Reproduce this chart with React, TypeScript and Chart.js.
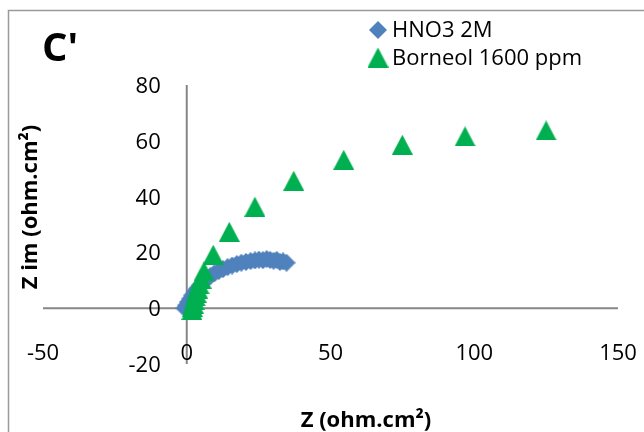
import React, { useEffect, useRef } from "react";
import { Chart, registerables } from "chart.js";

Chart.register(...registerables);

// Nyquist data, Z' (real) and Z'' (imaginary), ohm.cm²
const hno3X = [
  -0.8, -0.2, 0.5, 1.2, 1.9, 2.7, 3.6, 4.6, 5.7, 6.9, 8.2, 9.6, 11.1, 12.6, 14.2, 15.8,
  17.4, 19.0, 20.6, 22.2, 23.7, 25.1, 26.5, 27.8, 29.0, 30.2, 31.3, 32.4, 33.5, 34.7,
];
const hno3Y = [
  0.0, 1.0, 2.2, 3.4, 4.6, 5.8, 7.0, 8.2, 9.3, 10.4, 11.5, 12.5, 13.3, 14.0, 14.7, 15.3,
  15.8, 16.3, 16.6, 16.9, 17.1, 17.4, 17.2, 17.6, 17.3, 17.0, 17.3, 16.6, 16.8, 16.3,
];
const borneolX = [
  1.8, 2.0, 2.3, 2.6, 3.0, 3.3, 3.8, 4.3, 5.0, 6.0, 9.2, 14.8, 23.7, 37.2, 54.6, 75.0, 96.8, 125.0,
];
const borneolY = [
  -0.6, 0.4, 1.6, 2.9, 4.2, 5.5, 7.0, 8.6, 10.6, 13.2, 19.2, 27.4, 36.4, 45.7, 53.2, 58.6, 61.6, 63.7,
];

const seriesNames = ["HNO3 2M", "Borneol 1600 ppm"];
const xTickValues = [-50, 0, 50, 100, 150];
const yTickValues = [-20, 0, 20, 40, 60, 80];
const panelLabel = "C'";
const xTitle = "Z (ohm.cm²)";
const yTitle = "Z im (ohm.cm²)";

const BLUE = "#4F81BD";
const GREEN = "#00B050";
const FONT = '"Open Sans", "DejaVu Sans", sans-serif';

function makeDiamond(color: string, w: number, h: number) {
  const c = document.createElement("canvas");
  c.width = w;
  c.height = h;
  const g = c.getContext("2d")!;
  g.fillStyle = color;
  g.beginPath();
  g.moveTo(w / 2, 0);
  g.lineTo(w, h / 2);
  g.lineTo(w / 2, h);
  g.lineTo(0, h / 2);
  g.closePath();
  g.fill();
  return c;
}

function makeTriangle(color: string, w: number, h: number) {
  const c = document.createElement("canvas");
  c.width = w;
  c.height = h;
  const g = c.getContext("2d")!;
  g.fillStyle = color;
  g.beginPath();
  g.moveTo(w / 2, 0);
  g.lineTo(w, h);
  g.lineTo(0, h);
  g.closePath();
  g.fill();
  return c;
}

export default function App() {
  const canvasRef = useRef<HTMLCanvasElement | null>(null);

  useEffect(() => {
    const canvas = canvasRef.current;
    if (!canvas) return;

    const diamond = makeDiamond(BLUE, 18, 18);
    const triangle = makeTriangle(GREEN, 21, 20);

    const decor = {
      id: "decor",
      beforeDatasetsDraw(chart: any) {
        const { ctx } = chart;
        const xs = chart.scales.x;
        const ys = chart.scales.y;
        const x0 = xs.getPixelForValue(0);
        const y0 = ys.getPixelForValue(0);
        ctx.save();
        // outer frame
        ctx.strokeStyle = "#9a9a9a";
        ctx.lineWidth = 1.5;
        ctx.strokeRect(8.5, 10.5, 900, 700);
        // axes crossing at zero
        ctx.strokeStyle = "#868686";
        ctx.lineWidth = 2;
        ctx.beginPath();
        ctx.moveTo(xs.left, y0);
        ctx.lineTo(xs.right, y0);
        ctx.moveTo(x0, ys.top);
        ctx.lineTo(x0, ys.bottom);
        ctx.stroke();
        // tick labels
        ctx.fillStyle = "#000";
        ctx.font = `22px ${FONT}`;
        ctx.textBaseline = "alphabetic";
        ctx.textAlign = "right";
        yTickValues.forEach((v) => {
          ctx.fillText(String(v), x0 - 26, ys.getPixelForValue(v) + 8);
        });
        ctx.textAlign = "center";
        xTickValues.forEach((v) => {
          ctx.fillText(String(v), xs.getPixelForValue(v), y0 + 51.5);
        });
        ctx.restore();
      },
      afterDraw(chart: any) {
        const { ctx } = chart;
        ctx.save();
        ctx.fillStyle = "#000";
        ctx.textBaseline = "alphabetic";
        // panel label
        ctx.font = `bold 40px ${FONT}`;
        ctx.textAlign = "left";
        ctx.fillText(panelLabel, 42, 61);
        // axis titles
        ctx.font = `bold 22px ${FONT}`;
        ctx.textAlign = "center";
        ctx.fillText(xTitle, 366, 427);
        ctx.save();
        ctx.translate(37, 207);
        ctx.rotate(-Math.PI / 2);
        ctx.fillText(yTitle, 0, 0);
        ctx.restore();
        // legend
        ctx.font = `22px ${FONT}`;
        ctx.textAlign = "left";
        ctx.drawImage(diamond, 378 - diamond.width / 2, 30 - diamond.height / 2);
        ctx.fillText(seriesNames[0], 392, 37);
        ctx.drawImage(triangle, 378 - triangle.width / 2, 57.5 - triangle.height / 2);
        ctx.fillText(seriesNames[1], 392, 65);
        ctx.restore();
      },
    };

    const chart = new Chart(canvas, {
      type: "scatter",
      data: {
        datasets: [
          {
            label: seriesNames[0],
            data: hno3X.map((x, i) => ({ x, y: hno3Y[i] })),
            pointStyle: diamond,
            pointRadius: 9,
            backgroundColor: BLUE,
            borderColor: BLUE,
            order: 1,
            clip: false,
          },
          {
            label: seriesNames[1],
            data: borneolX.map((x, i) => ({ x, y: borneolY[i] })),
            pointStyle: triangle,
            pointRadius: 10,
            backgroundColor: GREEN,
            borderColor: GREEN,
            order: 0,
            clip: false,
          },
        ],
      },
      options: {
        animation: false,
        responsive: false,
        layout: { padding: { left: 43, right: 26, top: 85, bottom: 68 } },
        plugins: {
          legend: { display: false },
          title: { display: false },
          tooltip: { enabled: false },
        },
        scales: {
          x: { type: "linear", min: -50, max: 150, display: false },
          y: { type: "linear", min: -20, max: 80, display: false },
        },
      },
      plugins: [decor],
    });

    if ((document as any).fonts && (document as any).fonts.load) {
      Promise.all([
        (document as any).fonts.load(`22px "Open Sans"`),
        (document as any).fonts.load(`bold 22px "Open Sans"`),
      ])
        .then(() => chart.draw())
        .catch(() => {});
    }

    return () => chart.destroy();
  }, []);

  return (
    <div
      style={{
        position: "absolute",
        left: 0,
        top: 0,
        width: 644,
        height: 432,
        background: "#fff",
      }}
    >
      <canvas ref={canvasRef} width={644} height={432} style={{ display: "block" }} />
    </div>
  );
}
